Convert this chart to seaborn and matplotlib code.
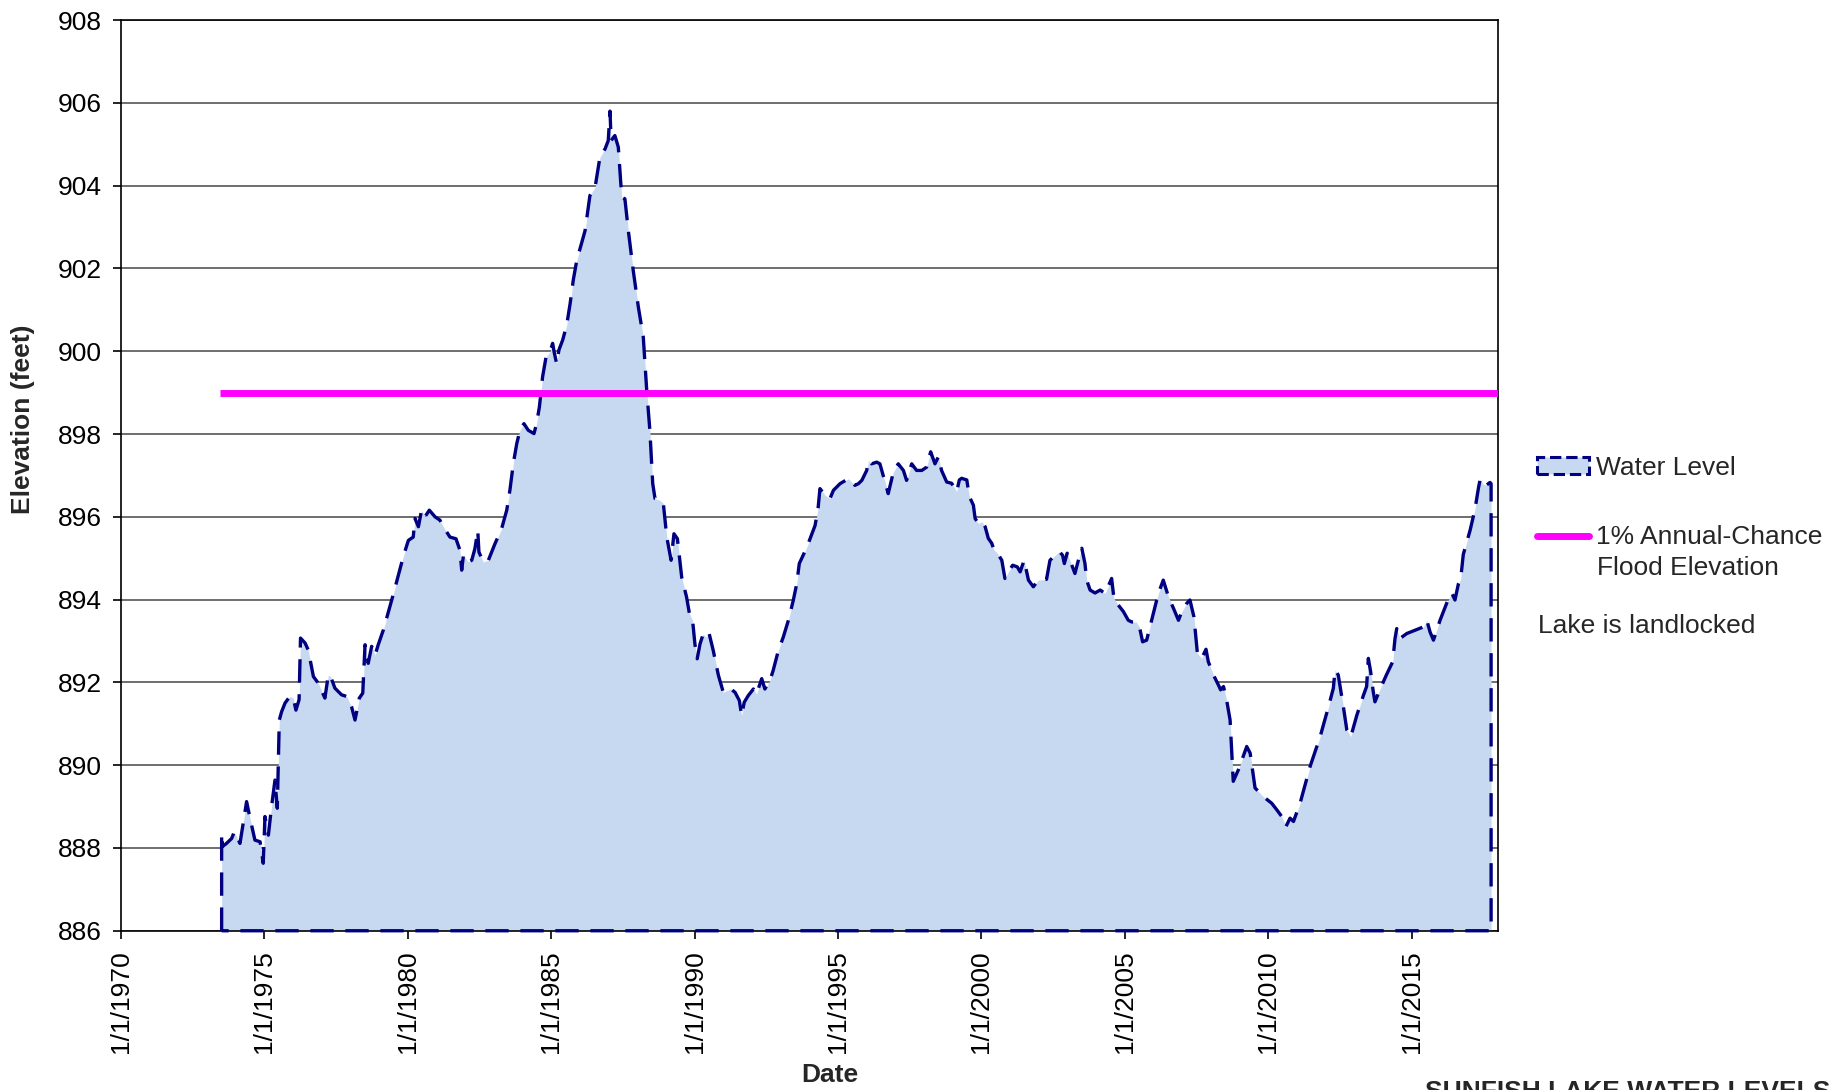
import matplotlib
matplotlib.use("Agg")
import matplotlib.pyplot as plt
from matplotlib.lines import Line2D
from matplotlib.patches import Patch
import seaborn as sns

# Sunfish Lake water levels (decimal year, feet)
years = [
    1973.51, 1973.53, 1973.68, 1973.86, 1973.95, 1974.15, 1974.38, 1974.50, 1974.67, 1974.85,
    1974.96, 1975.02, 1975.14, 1975.25, 1975.37, 1975.45, 1975.52, 1975.60, 1975.72, 1975.89,
    1976.01, 1976.10, 1976.21, 1976.26, 1976.42, 1976.53, 1976.71, 1976.88, 1977.11, 1977.23,
    1977.31, 1977.46, 1977.69, 1977.87, 1978.04, 1978.16, 1978.31, 1978.43, 1978.51, 1978.62,
    1978.74, 1978.86, 1978.97, 1979.15, 1979.44,
    1979.50, 1979.84, 1980.02, 1980.19, 1980.25, 1980.37, 1980.48, 1980.60, 1980.75, 1980.95,
    1981.12, 1981.24, 1981.47, 1981.68, 1981.82, 1981.88, 1981.94, 1982.11, 1982.23, 1982.34,
    1982.44, 1982.48, 1982.63, 1982.81, 1983.04, 1983.27, 1983.45, 1983.56, 1983.68, 1983.80,
    1983.91, 1984.05, 1984.20, 1984.40, 1984.49, 1984.59, 1984.70, 1984.82, 1984.96, 1985.05,
    1985.10, 1985.19, 1985.27, 1985.40, 1985.54, 1985.66, 1985.77,
    1985.89, 1986.18, 1986.35, 1986.53, 1986.70, 1986.88, 1986.99, 1987.05, 1987.09, 1987.22,
    1987.34, 1987.46, 1987.57, 1987.69, 1987.86, 1988.04, 1988.21, 1988.33, 1988.44, 1988.54,
    1988.62, 1988.79, 1988.91, 1989.03, 1989.18, 1989.28, 1989.40, 1989.55, 1989.72, 1989.82,
    1989.93, 1990.01, 1990.09, 1990.19, 1990.30, 1990.40, 1990.51, 1990.65, 1990.83, 1991.00,
    1991.12, 1991.26, 1991.41, 1991.56, 1991.64, 1991.73, 1991.87, 1992.05, 1992.16, 1992.34,
    1992.45, 1992.63, 1992.74, 1992.92, 1993.09, 1993.27, 1993.44, 1993.56, 1993.65, 1993.81,
    1993.96, 1994.20, 1994.31, 1994.37, 1994.55, 1994.72, 1994.84, 1995.07, 1995.36, 1995.59,
    1995.71, 1995.83, 1996.00, 1996.06, 1996.17, 1996.35, 1996.46, 1996.64, 1996.75, 1996.93,
    1997.10, 1997.28, 1997.39, 1997.57, 1997.74, 1997.92, 1998.09, 1998.23, 1998.38, 1998.50,
    1998.61, 1998.79,
    1998.96, 1999.14, 1999.23, 1999.31, 1999.49, 1999.58, 1999.72, 1999.78, 1999.89, 2000.01,
    2000.13, 2000.24, 2000.36, 2000.44, 2000.56, 2000.71, 2000.82, 2000.94, 2001.09, 2001.25,
    2001.35, 2001.49, 2001.64, 2001.81, 2001.98, 2002.27, 2002.39, 2002.57, 2002.72, 2002.83,
    2002.89, 2002.99, 2003.11, 2003.26, 2003.38, 2003.50, 2003.61, 2003.67, 2003.79, 2003.96,
    2004.14, 2004.31, 2004.39, 2004.54, 2004.62, 2004.77, 2004.95, 2005.12,
    2005.24, 2005.39, 2005.51, 2005.62, 2005.76, 2005.99, 2006.17, 2006.34, 2006.52, 2006.72,
    2006.87, 2006.98, 2007.16, 2007.27, 2007.41, 2007.53, 2007.68, 2007.83,
    2007.91, 2008.09, 2008.26, 2008.34, 2008.44, 2008.55, 2008.67, 2008.78, 2008.96, 2009.25,
    2009.37, 2009.54, 2009.83, 2010.12, 2010.30, 2010.47, 2010.62, 2010.76, 2010.88, 2011.11,
    2011.46, 2011.81, 2012.10, 2012.27, 2012.33, 2012.44, 2012.62, 2012.74, 2012.88, 2013.09,
    2013.32, 2013.43, 2013.49, 2013.57, 2013.66, 2013.72, 2013.89, 2014.12, 2014.34, 2014.42,
    2014.48, 2014.59, 2014.83, 2015.12, 2015.41, 2015.53, 2015.64, 2015.76, 2015.99,
    2016.22, 2016.40, 2016.51, 2016.63, 2016.71, 2016.80, 2017.04, 2017.21, 2017.33, 2017.39,
    2017.50, 2017.62, 2017.73, 2017.77,
]

elevation = [
    888.35, 888.03, 888.11, 888.23, 888.39, 888.11, 889.12, 888.72, 888.19, 888.15,
    887.63, 888.76, 888.31, 889.00, 889.64, 888.96, 891.09, 891.29, 891.50, 891.66,
    891.62, 891.33, 891.58, 893.07, 892.95, 892.78, 892.14, 891.98, 891.62, 892.18,
    892.14, 891.86, 891.70, 891.66, 891.41, 891.09, 891.62, 891.74, 892.91, 892.46,
    892.87, 892.66, 892.91, 893.27, 893.99,
    894.14, 895.03, 895.43, 895.51, 895.96, 895.76, 896.16, 896.00, 896.16, 896.00,
    895.92, 895.76, 895.51, 895.47, 895.19, 894.71, 895.07, 894.91, 894.95, 895.23,
    895.67, 895.15, 894.91, 894.95, 895.35, 895.71, 896.16, 896.64, 897.29, 897.77,
    898.09, 898.25, 898.09, 898.01, 898.25, 898.66, 899.38, 899.86, 899.99, 900.19,
    899.99, 899.70, 900.03, 900.27, 900.63, 901.15, 901.72,
    902.19, 902.91, 903.76, 903.96, 904.69, 904.89, 905.09, 905.80, 905.09, 905.21,
    904.93, 903.72, 903.68, 902.91, 901.95, 901.06, 900.35, 899.06, 898.09, 896.80,
    896.44, 896.40, 896.32, 895.51, 894.95, 895.59, 895.47, 894.54, 894.06, 893.66,
    893.50, 892.93, 892.57, 892.93, 893.17, 893.09, 893.17, 892.77, 892.17, 891.76,
    891.80, 891.84, 891.76, 891.56, 891.20, 891.52, 891.68, 891.84, 891.72, 892.09,
    891.84, 892.05, 892.29, 892.77, 893.09, 893.50, 893.98, 894.38, 894.87, 895.11,
    895.35, 895.79, 896.24, 896.68, 896.52, 896.44, 896.64, 896.80, 896.92, 896.76,
    896.80, 896.88, 897.12, 897.36, 897.28, 897.32, 897.28, 896.84, 896.56, 897.08,
    897.28, 897.12, 896.88, 897.28, 897.12, 897.12, 897.20, 897.57, 897.28, 897.45,
    897.12, 896.84,
    896.81, 896.61, 896.89, 896.93, 896.89, 896.49, 896.28, 895.96, 895.84, 895.88,
    895.76, 895.48, 895.36, 895.20, 895.12, 894.95, 894.51, 894.67, 894.83, 894.79,
    894.67, 894.95, 894.47, 894.31, 894.47, 894.49, 894.95, 895.07, 895.16, 895.07,
    894.87, 895.12, 894.91, 894.63, 894.95, 895.24, 894.87, 894.47, 894.23, 894.16,
    894.23, 894.15, 894.27, 894.51, 894.03, 893.87, 893.71, 893.50,
    893.46, 893.46, 893.34, 892.98, 893.02, 893.66, 894.15, 894.47, 894.07, 893.75,
    893.50, 893.70, 893.91, 893.99, 893.58, 892.70, 892.58, 892.80,
    892.50, 892.18, 891.94, 891.82, 891.90, 891.57, 891.09, 889.61, 889.89, 890.45,
    890.29, 889.45, 889.24, 889.08, 888.92, 888.76, 888.52, 888.72, 888.64, 889.08,
    889.97, 890.69, 891.41, 891.86, 892.30, 892.18, 891.41, 890.85, 890.69, 891.21,
    891.69, 891.90, 892.58, 892.26, 891.78, 891.53, 891.82, 892.18, 892.50, 893.06,
    893.30, 893.06, 893.18, 893.26, 893.34, 893.50, 893.22, 893.02, 893.50,
    893.91, 894.16, 893.99, 894.38, 894.50, 895.09, 895.68, 896.19, 896.70, 896.91,
    896.78, 896.77, 896.83, 896.80,
]

flood_years = [1973.45, 2018.0]
flood_elevation = [899.0, 899.0]

x_ticks = [1970, 1975, 1980, 1985, 1990, 1995, 2000, 2005, 2010, 2015]
x_tick_labels = ['1/1/%d' % y for y in x_ticks]
y_ticks = list(range(886, 909, 2))

fill_color = '#C6D9F1'
line_color = '#000080'
flood_color = '#FF00FF'
base = 886
fs = 19

sns.set_style('ticks')
plt.rcParams['font.family'] = ['Liberation Sans', 'DejaVu Sans']

fig = plt.figure(figsize=(18.44, 10.90), dpi=100)
ax = fig.add_axes([0.0656, 0.1461, 0.7466, 0.8355])

ax.fill_between(years, elevation, base, color=fill_color, lw=0, zorder=2)

# dashed border all round the area, as in the spreadsheet chart
outline_x = [years[0]] + years + [years[-1], years[0]]
outline_y = [base] + elevation + [base, base]
sns.lineplot(x=outline_x, y=outline_y, sort=False, estimator=None, ax=ax,
             color=line_color, lw=2.4, linestyle=(0, (7, 3.5)),
             zorder=3, clip_on=False)

sns.lineplot(x=flood_years, y=flood_elevation, ax=ax, color=flood_color,
             lw=5, zorder=4, solid_capstyle='butt')

ax.set_xlim(1970, 2018)
ax.set_ylim(886, 908)
ax.set_xticks(x_ticks)
ax.set_xticklabels(x_tick_labels, rotation=90)
ax.set_yticks(y_ticks)
ax.tick_params(axis='both', direction='out', length=6, width=1.2,
               labelsize=fs, colors='black', pad=8)
ax.set_xlabel('')
ax.set_ylabel('')

ax.set_axisbelow(True)
ax.yaxis.grid(True, color='#555555', lw=1.2)
ax.xaxis.grid(False)
for side in ['left', 'right', 'top', 'bottom']:
    ax.spines[side].set_visible(True)
    ax.spines[side].set_color('black')
    ax.spines[side].set_linewidth(1.2)

fig.text(0.0127, 0.6156, 'Elevation (feet)', rotation=90, fontsize=fs,
         fontweight='bold', ha='center', va='center')
fig.text(0.45, 0.0136, 'Date', fontsize=fs, fontweight='bold',
         ha='center', va='center')

handles = [
    Patch(facecolor=fill_color, edgecolor=line_color, linestyle='--', lw=2.2),
    Line2D([0], [0], color=flood_color, lw=5, solid_capstyle='round'),
]
fig.legend(handles, ['Water Level', '1% Annual-Chance'], loc='upper left',
           bbox_to_anchor=(0.8333, 0.5818), frameon=False, fontsize=fs,
           handlelength=2.0, handleheight=0.6, handletextpad=0.25,
           borderpad=0, borderaxespad=0, labelspacing=1.73)
fig.text(0.8659, 0.4789, 'Flood Elevation', fontsize=fs, va='center')
fig.text(0.8339, 0.4260, 'Lake is landlocked', fontsize=fs, va='center')

fig.text(0.7728, -0.0078, 'SUNFISH LAKE WATER LEVELS', fontsize=fs,
         fontweight='bold', va='baseline')

fig.savefig('out.png', dpi=100)
